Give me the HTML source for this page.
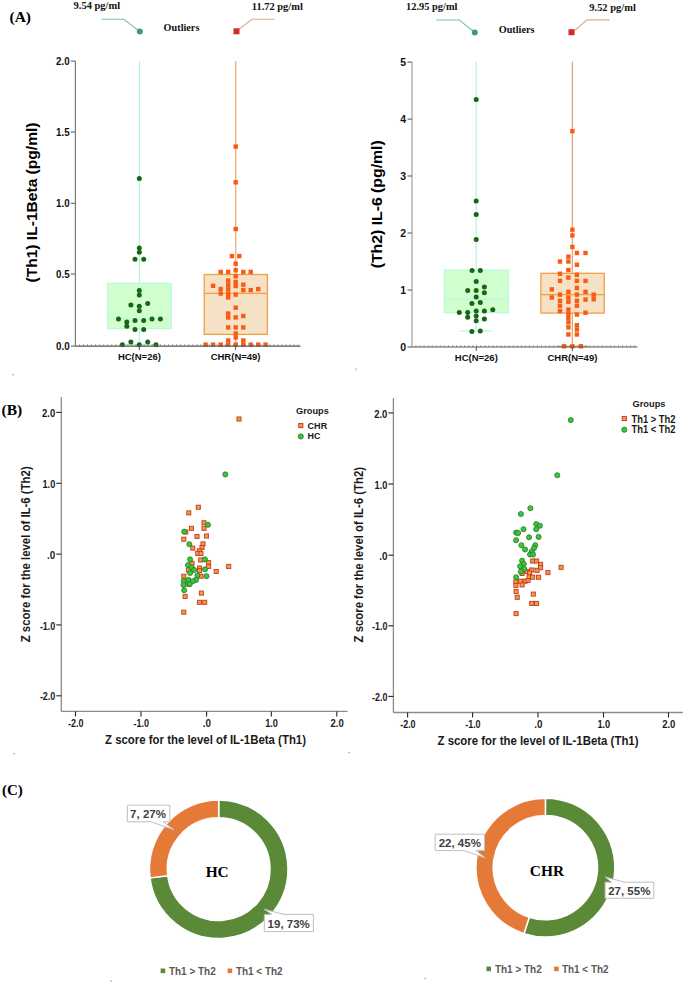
<!DOCTYPE html>
<html><head><meta charset="utf-8"><style>
html,body{margin:0;padding:0;background:#fff;width:685px;height:984px;overflow:hidden}
svg{display:block}
</style></head><body>
<svg width="685" height="984" viewBox="0 0 685 984">
<rect width="685" height="984" fill="#fff"/>
<text x="9.5" y="21.8" font-family='"Liberation Serif", serif' font-size="15.5" font-weight="bold" fill="#000" text-anchor="start" >(A)</text>
<text x="1.5" y="414.5" font-family='"Liberation Serif", serif' font-size="15.5" font-weight="bold" fill="#000" text-anchor="start" >(B)</text>
<text x="1.9" y="795" font-family='"Liberation Serif", serif' font-size="15" font-weight="bold" fill="#000" text-anchor="start" >(C)</text>
<line x1="75.4" y1="61.1" x2="75.4" y2="346.1" stroke="#7a7a7a" stroke-width="1.2"/>
<line x1="70.9" y1="61.1" x2="75.4" y2="61.1" stroke="#6e6e6e" stroke-width="1.2"/>
<text x="69.60000000000001" y="65.0" font-family='"Liberation Sans", sans-serif' font-size="10.5" font-weight="bold" fill="#111" text-anchor="end" textLength="13.6" lengthAdjust="spacingAndGlyphs" >2.0</text>
<line x1="70.9" y1="132" x2="75.4" y2="132" stroke="#6e6e6e" stroke-width="1.2"/>
<text x="69.60000000000001" y="135.9" font-family='"Liberation Sans", sans-serif' font-size="10.5" font-weight="bold" fill="#111" text-anchor="end" textLength="13.6" lengthAdjust="spacingAndGlyphs" >1.5</text>
<line x1="70.9" y1="203.3" x2="75.4" y2="203.3" stroke="#6e6e6e" stroke-width="1.2"/>
<text x="69.60000000000001" y="207.20000000000002" font-family='"Liberation Sans", sans-serif' font-size="10.5" font-weight="bold" fill="#111" text-anchor="end" textLength="13.6" lengthAdjust="spacingAndGlyphs" >1.0</text>
<line x1="70.9" y1="274" x2="75.4" y2="274" stroke="#6e6e6e" stroke-width="1.2"/>
<text x="69.60000000000001" y="277.9" font-family='"Liberation Sans", sans-serif' font-size="10.5" font-weight="bold" fill="#111" text-anchor="end" textLength="13.6" lengthAdjust="spacingAndGlyphs" >0.5</text>
<line x1="70.9" y1="346.1" x2="75.4" y2="346.1" stroke="#6e6e6e" stroke-width="1.2"/>
<text x="69.60000000000001" y="350.0" font-family='"Liberation Sans", sans-serif' font-size="10.5" font-weight="bold" fill="#111" text-anchor="end" textLength="13.6" lengthAdjust="spacingAndGlyphs" >0.0</text>
<text x="37.2" y="202.5" font-family='"Liberation Sans", sans-serif' font-size="15" font-weight="bold" fill="#000" text-anchor="middle" textLength="160" lengthAdjust="spacingAndGlyphs" transform="rotate(-90 37.2 202.5)">(Th1) IL-1Beta (pg/ml)</text>
<line x1="139.5" y1="61" x2="139.5" y2="344.5" stroke="#b6f5dc" stroke-width="1.3"/>
<rect x="107.5" y="283.3" width="63.80000000000001" height="45.30000000000001" fill="#d0fecc" stroke="#b9f7e0" stroke-width="1.2"/>
<line x1="107.5" y1="319" x2="171.3" y2="319" stroke="#b9f7e0" stroke-width="1.2"/>
<line x1="122" y1="344.5" x2="157" y2="344.5" stroke="#b9f7e0" stroke-width="1.2"/>
<circle cx="139.3" cy="178.40" r="2.5" fill="#176614"/>
<circle cx="139.3" cy="247.90" r="2.5" fill="#176614"/>
<circle cx="139.3" cy="252.30" r="2.5" fill="#176614"/>
<circle cx="135.0" cy="259.30" r="2.5" fill="#176614"/>
<circle cx="143.7" cy="259.30" r="2.5" fill="#176614"/>
<circle cx="139.3" cy="290.50" r="2.5" fill="#176614"/>
<circle cx="139.3" cy="294.90" r="2.5" fill="#176614"/>
<circle cx="130.9" cy="304.90" r="2.5" fill="#176614"/>
<circle cx="147.7" cy="303.40" r="2.5" fill="#176614"/>
<circle cx="139.3" cy="306.30" r="2.5" fill="#176614"/>
<circle cx="139.3" cy="310.70" r="2.5" fill="#176614"/>
<circle cx="118.5" cy="319.00" r="2.5" fill="#176614"/>
<circle cx="126.8" cy="322.10" r="2.5" fill="#176614"/>
<circle cx="135" cy="320.60" r="2.5" fill="#176614"/>
<circle cx="143.7" cy="320.60" r="2.5" fill="#176614"/>
<circle cx="152" cy="319.00" r="2.5" fill="#176614"/>
<circle cx="160.4" cy="319.00" r="2.5" fill="#176614"/>
<circle cx="126.8" cy="326.30" r="2.5" fill="#176614"/>
<circle cx="135" cy="329.40" r="2.5" fill="#176614"/>
<circle cx="143.7" cy="329.40" r="2.5" fill="#176614"/>
<circle cx="122.4" cy="344.70" r="2.5" fill="#176614"/>
<circle cx="130.9" cy="342.10" r="2.5" fill="#176614"/>
<circle cx="139.3" cy="344.70" r="2.5" fill="#176614"/>
<circle cx="147.7" cy="342.10" r="2.5" fill="#176614"/>
<circle cx="156" cy="344.70" r="2.5" fill="#176614"/>
<line x1="235.7" y1="61" x2="235.7" y2="346.1" stroke="#f2ac70" stroke-width="1.3"/>
<rect x="204.2" y="274.5" width="63.19999999999999" height="59.89999999999998" fill="#f5e1c6" stroke="#f0a040" stroke-width="1.3"/>
<line x1="204.2" y1="293.4" x2="267.4" y2="293.4" stroke="#f0a040" stroke-width="1.3"/>
<rect x="233.50" y="144.40" width="4.4" height="4.4" fill="#fb5a14"/>
<rect x="233.50" y="180.10" width="4.4" height="4.4" fill="#fb5a14"/>
<rect x="233.50" y="226.80" width="4.4" height="4.4" fill="#fb5a14"/>
<rect x="229.70" y="253.90" width="4.4" height="4.4" fill="#fb5a14"/>
<rect x="237.10" y="253.90" width="4.4" height="4.4" fill="#fb5a14"/>
<rect x="233.50" y="261.40" width="4.4" height="4.4" fill="#fb5a14"/>
<rect x="233.50" y="268.10" width="4.4" height="4.4" fill="#fb5a14"/>
<rect x="218.50" y="269.70" width="4.4" height="4.4" fill="#fb5a14"/>
<rect x="226.00" y="269.70" width="4.4" height="4.4" fill="#fb5a14"/>
<rect x="241.10" y="269.70" width="4.4" height="4.4" fill="#fb5a14"/>
<rect x="248.50" y="269.70" width="4.4" height="4.4" fill="#fb5a14"/>
<rect x="233.50" y="274.10" width="4.4" height="4.4" fill="#fb5a14"/>
<rect x="226.00" y="278.40" width="4.4" height="4.4" fill="#fb5a14"/>
<rect x="226.00" y="282.80" width="4.4" height="4.4" fill="#fb5a14"/>
<rect x="226.00" y="287.20" width="4.4" height="4.4" fill="#fb5a14"/>
<rect x="226.00" y="291.60" width="4.4" height="4.4" fill="#fb5a14"/>
<rect x="226.00" y="295.20" width="4.4" height="4.4" fill="#fb5a14"/>
<rect x="233.50" y="279.80" width="4.4" height="4.4" fill="#fb5a14"/>
<rect x="233.50" y="283.80" width="4.4" height="4.4" fill="#fb5a14"/>
<rect x="233.50" y="292.40" width="4.4" height="4.4" fill="#fb5a14"/>
<rect x="241.10" y="282.50" width="4.4" height="4.4" fill="#fb5a14"/>
<rect x="241.10" y="287.90" width="4.4" height="4.4" fill="#fb5a14"/>
<rect x="248.50" y="287.90" width="4.4" height="4.4" fill="#fb5a14"/>
<rect x="256.00" y="286.90" width="4.4" height="4.4" fill="#fb5a14"/>
<rect x="210.90" y="283.60" width="4.4" height="4.4" fill="#fb5a14"/>
<rect x="218.50" y="286.80" width="4.4" height="4.4" fill="#fb5a14"/>
<rect x="218.50" y="291.30" width="4.4" height="4.4" fill="#fb5a14"/>
<rect x="233.50" y="305.50" width="4.4" height="4.4" fill="#fb5a14"/>
<rect x="226.00" y="311.30" width="4.4" height="4.4" fill="#fb5a14"/>
<rect x="226.00" y="315.30" width="4.4" height="4.4" fill="#fb5a14"/>
<rect x="233.50" y="315.20" width="4.4" height="4.4" fill="#fb5a14"/>
<rect x="241.10" y="313.80" width="4.4" height="4.4" fill="#fb5a14"/>
<rect x="226.00" y="325.20" width="4.4" height="4.4" fill="#fb5a14"/>
<rect x="233.50" y="325.20" width="4.4" height="4.4" fill="#fb5a14"/>
<rect x="241.10" y="325.20" width="4.4" height="4.4" fill="#fb5a14"/>
<rect x="233.50" y="331.30" width="4.4" height="4.4" fill="#fb5a14"/>
<rect x="233.50" y="335.30" width="4.4" height="4.4" fill="#fb5a14"/>
<rect x="203.40" y="342.40" width="4.4" height="4.4" fill="#fb5a14"/>
<rect x="210.90" y="342.40" width="4.4" height="4.4" fill="#fb5a14"/>
<rect x="218.50" y="342.40" width="4.4" height="4.4" fill="#fb5a14"/>
<rect x="226.00" y="342.40" width="4.4" height="4.4" fill="#fb5a14"/>
<rect x="233.50" y="342.40" width="4.4" height="4.4" fill="#fb5a14"/>
<rect x="241.10" y="342.40" width="4.4" height="4.4" fill="#fb5a14"/>
<rect x="248.50" y="342.40" width="4.4" height="4.4" fill="#fb5a14"/>
<rect x="256.00" y="342.40" width="4.4" height="4.4" fill="#fb5a14"/>
<rect x="263.40" y="342.40" width="4.4" height="4.4" fill="#fb5a14"/>
<rect x="226.00" y="338.30" width="4.4" height="4.4" fill="#fb5a14"/>
<rect x="241.10" y="338.30" width="4.4" height="4.4" fill="#fb5a14"/>
<line x1="75.4" y1="346.1" x2="300.4" y2="346.1" stroke="#555" stroke-width="1.1"/>
<path d="M79.4 344.3v1.8 M83.5 344.3v1.8 M87.5 344.3v1.8 M91.5 344.3v1.8 M95.6 344.3v1.8 M99.6 344.3v1.8 M103.7 344.3v1.8 M107.7 344.3v1.8 M111.8 344.3v1.8 M115.8 344.3v1.8 M119.9 344.3v1.8 M123.9 344.3v1.8 M128.0 344.3v1.8 M132.0 344.3v1.8 M136.1 344.3v1.8 M140.2 344.3v1.8 M144.2 344.3v1.8 M148.3 344.3v1.8 M152.3 344.3v1.8 M156.4 344.3v1.8 M160.4 344.3v1.8 M164.5 344.3v1.8 M168.5 344.3v1.8 M172.6 344.3v1.8 M176.6 344.3v1.8 M180.7 344.3v1.8 M184.7 344.3v1.8 M188.8 344.3v1.8 M192.8 344.3v1.8 M196.9 344.3v1.8 M200.9 344.3v1.8 M205.0 344.3v1.8 M209.0 344.3v1.8 M213.1 344.3v1.8 M217.1 344.3v1.8 M221.2 344.3v1.8 M225.2 344.3v1.8 M229.3 344.3v1.8 M233.3 344.3v1.8 M237.4 344.3v1.8 M241.4 344.3v1.8 M245.5 344.3v1.8 M249.5 344.3v1.8 M253.6 344.3v1.8 M257.6 344.3v1.8 M261.7 344.3v1.8 M265.7 344.3v1.8 M269.8 344.3v1.8 M273.8 344.3v1.8 M277.9 344.3v1.8 M281.9 344.3v1.8 M286.0 344.3v1.8 M290.0 344.3v1.8 M294.1 344.3v1.8 M298.1 344.3v1.8" stroke="#777" stroke-width="0.8"/>
<line x1="139.4" y1="346.1" x2="139.4" y2="350.1" stroke="#555" stroke-width="1"/>
<text x="139.4" y="360.40000000000003" font-family='"Liberation Sans", sans-serif' font-size="9.5" font-weight="bold" fill="#111" text-anchor="middle" >HC(N=26)</text>
<line x1="235.6" y1="346.1" x2="235.6" y2="350.1" stroke="#555" stroke-width="1"/>
<text x="235.6" y="360.40000000000003" font-family='"Liberation Sans", sans-serif' font-size="9.5" font-weight="bold" fill="#111" text-anchor="middle" >CHR(N=49)</text>
<text x="73.6" y="8.8" font-family='"Liberation Serif", serif' font-size="10.4" font-weight="bold" fill="#111" text-anchor="start" textLength="46.5" lengthAdjust="spacingAndGlyphs" >9.54 pg/ml</text>
<polyline points="101.8,19.2 123.9,19.2 139.8,31.5" fill="none" stroke="#7cc4ad" stroke-width="1.1"/>
<circle cx="139.8" cy="31.5" r="3" fill="#3f9a7c"/>
<text x="251.8" y="10.3" font-family='"Liberation Serif", serif' font-size="10.4" font-weight="bold" fill="#111" text-anchor="start" textLength="51" lengthAdjust="spacingAndGlyphs" >11.72 pg/ml</text>
<polyline points="236.5,31.3 252.1,19.2 274.6,19.2" fill="none" stroke="#d7ae92" stroke-width="1.1"/>
<rect x="233.5" y="28.3" width="6" height="6" fill="#d42a22"/>
<text x="163.6" y="31.2" font-family='"Liberation Serif", serif' font-size="10.6" font-weight="bold" fill="#111" text-anchor="start" textLength="35.8" lengthAdjust="spacingAndGlyphs" >Outliers</text>
<line x1="412" y1="62.1" x2="412" y2="347" stroke="#a0a0a0" stroke-width="1.2"/>
<line x1="407.5" y1="62.1" x2="412" y2="62.1" stroke="#6e6e6e" stroke-width="1.2"/>
<text x="406.2" y="66.0" font-family='"Liberation Sans", sans-serif' font-size="10.5" font-weight="bold" fill="#111" text-anchor="end" >5</text>
<line x1="407.5" y1="119.1" x2="412" y2="119.1" stroke="#6e6e6e" stroke-width="1.2"/>
<text x="406.2" y="123.0" font-family='"Liberation Sans", sans-serif' font-size="10.5" font-weight="bold" fill="#111" text-anchor="end" >4</text>
<line x1="407.5" y1="176" x2="412" y2="176" stroke="#6e6e6e" stroke-width="1.2"/>
<text x="406.2" y="179.9" font-family='"Liberation Sans", sans-serif' font-size="10.5" font-weight="bold" fill="#111" text-anchor="end" >3</text>
<line x1="407.5" y1="233" x2="412" y2="233" stroke="#6e6e6e" stroke-width="1.2"/>
<text x="406.2" y="236.9" font-family='"Liberation Sans", sans-serif' font-size="10.5" font-weight="bold" fill="#111" text-anchor="end" >2</text>
<line x1="407.5" y1="290" x2="412" y2="290" stroke="#6e6e6e" stroke-width="1.2"/>
<text x="406.2" y="293.9" font-family='"Liberation Sans", sans-serif' font-size="10.5" font-weight="bold" fill="#111" text-anchor="end" >1</text>
<line x1="407.5" y1="347" x2="412" y2="347" stroke="#6e6e6e" stroke-width="1.2"/>
<text x="406.2" y="350.9" font-family='"Liberation Sans", sans-serif' font-size="10.5" font-weight="bold" fill="#111" text-anchor="end" >0</text>
<text x="381.8" y="204.3" font-family='"Liberation Sans", sans-serif' font-size="15" font-weight="bold" fill="#000" text-anchor="middle" textLength="128" lengthAdjust="spacingAndGlyphs" transform="rotate(-90 381.8 204.3)">(Th2) IL-6 (pg/ml)</text>
<line x1="476.2" y1="61.6" x2="476.2" y2="331" stroke="#b6f5dc" stroke-width="1.3"/>
<rect x="444.3" y="270.1" width="64.0" height="42.599999999999966" fill="#d0fecc" stroke="#b9f7e0" stroke-width="1.2"/>
<line x1="444.3" y1="299.3" x2="508.3" y2="299.3" stroke="#b9f7e0" stroke-width="1.2"/>
<line x1="460" y1="331" x2="491.7" y2="331" stroke="#b9f7e0" stroke-width="1.2"/>
<circle cx="476.2" cy="99.60" r="2.5" fill="#176614"/>
<circle cx="476.2" cy="201.10" r="2.5" fill="#176614"/>
<circle cx="476.2" cy="214.60" r="2.5" fill="#176614"/>
<circle cx="476.2" cy="239.60" r="2.5" fill="#176614"/>
<circle cx="472.1" cy="270.60" r="2.5" fill="#176614"/>
<circle cx="480.3" cy="270.60" r="2.5" fill="#176614"/>
<circle cx="476.2" cy="281.50" r="2.5" fill="#176614"/>
<circle cx="484.4" cy="287.10" r="2.5" fill="#176614"/>
<circle cx="467.7" cy="290.50" r="2.5" fill="#176614"/>
<circle cx="476.2" cy="290.50" r="2.5" fill="#176614"/>
<circle cx="484.4" cy="292.80" r="2.5" fill="#176614"/>
<circle cx="476.2" cy="296.90" r="2.5" fill="#176614"/>
<circle cx="471.9" cy="303.60" r="2.5" fill="#176614"/>
<circle cx="480.3" cy="302.50" r="2.5" fill="#176614"/>
<circle cx="459.3" cy="312.60" r="2.5" fill="#176614"/>
<circle cx="467.7" cy="312.60" r="2.5" fill="#176614"/>
<circle cx="476.2" cy="310.90" r="2.5" fill="#176614"/>
<circle cx="484.4" cy="310.90" r="2.5" fill="#176614"/>
<circle cx="492.8" cy="309.80" r="2.5" fill="#176614"/>
<circle cx="467.7" cy="317.30" r="2.5" fill="#176614"/>
<circle cx="476.2" cy="316.10" r="2.5" fill="#176614"/>
<circle cx="476.2" cy="320.80" r="2.5" fill="#176614"/>
<circle cx="484.4" cy="319.10" r="2.5" fill="#176614"/>
<circle cx="471.9" cy="331.50" r="2.5" fill="#176614"/>
<circle cx="480.3" cy="330.90" r="2.5" fill="#176614"/>
<line x1="572.4" y1="61.6" x2="572.4" y2="347" stroke="#d9aa72" stroke-width="1.3"/>
<rect x="540.9" y="273.3" width="63.30000000000007" height="39.80000000000001" fill="#f5e1c6" stroke="#f0a040" stroke-width="1.3"/>
<line x1="540.9" y1="294.6" x2="604.2" y2="294.6" stroke="#f0a040" stroke-width="1.3"/>
<line x1="557.7" y1="346.3" x2="587.6" y2="346.3" stroke="#f0a040" stroke-width="1.2"/>
<rect x="570.20" y="129.00" width="4.4" height="4.4" fill="#fb5a14"/>
<rect x="570.20" y="227.47" width="4.4" height="4.4" fill="#fb5a14"/>
<rect x="570.20" y="233.16" width="4.4" height="4.4" fill="#fb5a14"/>
<rect x="570.20" y="244.82" width="4.4" height="4.4" fill="#fb5a14"/>
<rect x="574.70" y="250.79" width="4.4" height="4.4" fill="#fb5a14"/>
<rect x="583.30" y="250.79" width="4.4" height="4.4" fill="#fb5a14"/>
<rect x="566.20" y="254.48" width="4.4" height="4.4" fill="#fb5a14"/>
<rect x="566.20" y="259.32" width="4.4" height="4.4" fill="#fb5a14"/>
<rect x="557.80" y="259.32" width="4.4" height="4.4" fill="#fb5a14"/>
<rect x="574.70" y="262.59" width="4.4" height="4.4" fill="#fb5a14"/>
<rect x="566.20" y="267.85" width="4.4" height="4.4" fill="#fb5a14"/>
<rect x="557.80" y="271.55" width="4.4" height="4.4" fill="#fb5a14"/>
<rect x="574.70" y="272.54" width="4.4" height="4.4" fill="#fb5a14"/>
<rect x="566.20" y="275.39" width="4.4" height="4.4" fill="#fb5a14"/>
<rect x="557.80" y="278.66" width="4.4" height="4.4" fill="#fb5a14"/>
<rect x="574.70" y="278.66" width="4.4" height="4.4" fill="#fb5a14"/>
<rect x="583.30" y="278.66" width="4.4" height="4.4" fill="#fb5a14"/>
<rect x="549.60" y="287.19" width="4.4" height="4.4" fill="#fb5a14"/>
<rect x="574.70" y="285.77" width="4.4" height="4.4" fill="#fb5a14"/>
<rect x="566.20" y="289.60" width="4.4" height="4.4" fill="#fb5a14"/>
<rect x="583.30" y="289.60" width="4.4" height="4.4" fill="#fb5a14"/>
<rect x="557.80" y="292.45" width="4.4" height="4.4" fill="#fb5a14"/>
<rect x="574.70" y="292.45" width="4.4" height="4.4" fill="#fb5a14"/>
<rect x="591.50" y="292.45" width="4.4" height="4.4" fill="#fb5a14"/>
<rect x="591.50" y="297.00" width="4.4" height="4.4" fill="#fb5a14"/>
<rect x="549.60" y="295.29" width="4.4" height="4.4" fill="#fb5a14"/>
<rect x="566.20" y="295.29" width="4.4" height="4.4" fill="#fb5a14"/>
<rect x="566.20" y="299.56" width="4.4" height="4.4" fill="#fb5a14"/>
<rect x="557.80" y="298.56" width="4.4" height="4.4" fill="#fb5a14"/>
<rect x="557.80" y="303.54" width="4.4" height="4.4" fill="#fb5a14"/>
<rect x="574.70" y="298.56" width="4.4" height="4.4" fill="#fb5a14"/>
<rect x="574.70" y="303.54" width="4.4" height="4.4" fill="#fb5a14"/>
<rect x="583.30" y="297.42" width="4.4" height="4.4" fill="#fb5a14"/>
<rect x="566.20" y="307.38" width="4.4" height="4.4" fill="#fb5a14"/>
<rect x="566.20" y="311.64" width="4.4" height="4.4" fill="#fb5a14"/>
<rect x="566.20" y="315.91" width="4.4" height="4.4" fill="#fb5a14"/>
<rect x="566.20" y="320.17" width="4.4" height="4.4" fill="#fb5a14"/>
<rect x="566.20" y="325.15" width="4.4" height="4.4" fill="#fb5a14"/>
<rect x="557.80" y="308.80" width="4.4" height="4.4" fill="#fb5a14"/>
<rect x="583.30" y="310.51" width="4.4" height="4.4" fill="#fb5a14"/>
<rect x="574.70" y="312.35" width="4.4" height="4.4" fill="#fb5a14"/>
<rect x="574.70" y="323.02" width="4.4" height="4.4" fill="#fb5a14"/>
<rect x="574.70" y="327.28" width="4.4" height="4.4" fill="#fb5a14"/>
<rect x="566.20" y="332.26" width="4.4" height="4.4" fill="#fb5a14"/>
<rect x="574.70" y="332.26" width="4.4" height="4.4" fill="#fb5a14"/>
<rect x="561.90" y="344.06" width="4.4" height="4.4" fill="#fb5a14"/>
<rect x="570.20" y="344.06" width="4.4" height="4.4" fill="#fb5a14"/>
<rect x="578.70" y="344.06" width="4.4" height="4.4" fill="#fb5a14"/>
<line x1="412" y1="347" x2="637.4" y2="347" stroke="#555" stroke-width="1.1"/>
<path d="M416.0 345.2v1.8 M420.1 345.2v1.8 M424.1 345.2v1.8 M428.2 345.2v1.8 M432.2 345.2v1.8 M436.3 345.2v1.8 M440.3 345.2v1.8 M444.4 345.2v1.8 M448.4 345.2v1.8 M452.5 345.2v1.8 M456.5 345.2v1.8 M460.6 345.2v1.8 M464.6 345.2v1.8 M468.7 345.2v1.8 M472.7 345.2v1.8 M476.8 345.2v1.8 M480.8 345.2v1.8 M484.9 345.2v1.8 M488.9 345.2v1.8 M493.0 345.2v1.8 M497.0 345.2v1.8 M501.1 345.2v1.8 M505.1 345.2v1.8 M509.2 345.2v1.8 M513.2 345.2v1.8 M517.3 345.2v1.8 M521.3 345.2v1.8 M525.4 345.2v1.8 M529.4 345.2v1.8 M533.5 345.2v1.8 M537.5 345.2v1.8 M541.5 345.2v1.8 M545.6 345.2v1.8 M549.6 345.2v1.8 M553.7 345.2v1.8 M557.7 345.2v1.8 M561.8 345.2v1.8 M565.8 345.2v1.8 M569.9 345.2v1.8 M573.9 345.2v1.8 M578.0 345.2v1.8 M582.0 345.2v1.8 M586.1 345.2v1.8 M590.1 345.2v1.8 M594.2 345.2v1.8 M598.2 345.2v1.8 M602.3 345.2v1.8 M606.3 345.2v1.8 M610.4 345.2v1.8 M614.4 345.2v1.8 M618.5 345.2v1.8 M622.5 345.2v1.8 M626.6 345.2v1.8 M630.6 345.2v1.8 M634.7 345.2v1.8" stroke="#777" stroke-width="0.8"/>
<line x1="476.3" y1="347" x2="476.3" y2="351" stroke="#555" stroke-width="1"/>
<text x="476.3" y="361.3" font-family='"Liberation Sans", sans-serif' font-size="9.5" font-weight="bold" fill="#111" text-anchor="middle" >HC(N=26)</text>
<line x1="572.4" y1="347" x2="572.4" y2="351" stroke="#555" stroke-width="1"/>
<text x="572.4" y="361.3" font-family='"Liberation Sans", sans-serif' font-size="9.5" font-weight="bold" fill="#111" text-anchor="middle" >CHR(N=49)</text>
<text x="406.1" y="10.1" font-family='"Liberation Serif", serif' font-size="10.4" font-weight="bold" fill="#111" text-anchor="start" textLength="51.4" lengthAdjust="spacingAndGlyphs" >12.95 pg/ml</text>
<polyline points="436.4,20 459.3,20 474.8,32.5" fill="none" stroke="#7cc4ad" stroke-width="1.1"/>
<circle cx="474.8" cy="32.5" r="3" fill="#3f9a7c"/>
<text x="589.3" y="11.2" font-family='"Liberation Serif", serif' font-size="10.4" font-weight="bold" fill="#111" text-anchor="start" textLength="46.5" lengthAdjust="spacingAndGlyphs" >9.52 pg/ml</text>
<polyline points="574,31 587.1,19.9 609.7,19.9" fill="none" stroke="#d7ae92" stroke-width="1.1"/>
<rect x="568.5" y="29.200000000000003" width="6" height="6" fill="#d42a22"/>
<text x="498.7" y="32.5" font-family='"Liberation Serif", serif' font-size="10.6" font-weight="bold" fill="#111" text-anchor="start" textLength="35.8" lengthAdjust="spacingAndGlyphs" >Outliers</text>
<line x1="61.3" y1="397" x2="61.3" y2="711.4" stroke="#8a8a8a" stroke-width="1.3"/>
<line x1="61.3" y1="711.4" x2="347.5" y2="711.4" stroke="#8a8a8a" stroke-width="1.3"/>
<line x1="56.3" y1="412.4" x2="61.3" y2="412.4" stroke="#222" stroke-width="1.1"/>
<text x="55.3" y="417.0" font-family='"Liberation Sans", sans-serif' font-size="10.5" font-weight="bold" fill="#1a1a1a" text-anchor="end" textLength="13.2" lengthAdjust="spacingAndGlyphs" >2.0</text>
<line x1="56.3" y1="483.3" x2="61.3" y2="483.3" stroke="#222" stroke-width="1.1"/>
<text x="55.3" y="487.90000000000003" font-family='"Liberation Sans", sans-serif' font-size="10.5" font-weight="bold" fill="#1a1a1a" text-anchor="end" textLength="12.8" lengthAdjust="spacingAndGlyphs" >1.0</text>
<line x1="56.3" y1="554.1" x2="61.3" y2="554.1" stroke="#222" stroke-width="1.1"/>
<text x="55.3" y="558.7" font-family='"Liberation Sans", sans-serif' font-size="10.5" font-weight="bold" fill="#1a1a1a" text-anchor="end" textLength="8.2" lengthAdjust="spacingAndGlyphs" >.0</text>
<line x1="56.3" y1="624.9" x2="61.3" y2="624.9" stroke="#222" stroke-width="1.1"/>
<text x="55.3" y="629.5" font-family='"Liberation Sans", sans-serif' font-size="10.5" font-weight="bold" fill="#1a1a1a" text-anchor="end" textLength="15.4" lengthAdjust="spacingAndGlyphs" >-1.0</text>
<line x1="56.3" y1="695.8" x2="61.3" y2="695.8" stroke="#222" stroke-width="1.1"/>
<text x="55.3" y="700.4" font-family='"Liberation Sans", sans-serif' font-size="10.5" font-weight="bold" fill="#1a1a1a" text-anchor="end" textLength="15.4" lengthAdjust="spacingAndGlyphs" >-2.0</text>
<line x1="75.5" y1="711.4" x2="75.5" y2="716.4" stroke="#222" stroke-width="1.1"/>
<text x="75.8" y="726.9" font-family='"Liberation Sans", sans-serif' font-size="10.5" font-weight="bold" fill="#1a1a1a" text-anchor="middle" textLength="15.4" lengthAdjust="spacingAndGlyphs" >-2.0</text>
<line x1="141" y1="711.4" x2="141" y2="716.4" stroke="#222" stroke-width="1.1"/>
<text x="141.3" y="726.9" font-family='"Liberation Sans", sans-serif' font-size="10.5" font-weight="bold" fill="#1a1a1a" text-anchor="middle" textLength="15.4" lengthAdjust="spacingAndGlyphs" >-1.0</text>
<line x1="206.6" y1="711.4" x2="206.6" y2="716.4" stroke="#222" stroke-width="1.1"/>
<text x="206.9" y="726.9" font-family='"Liberation Sans", sans-serif' font-size="10.5" font-weight="bold" fill="#1a1a1a" text-anchor="middle" textLength="8.2" lengthAdjust="spacingAndGlyphs" >.0</text>
<line x1="271.3" y1="711.4" x2="271.3" y2="716.4" stroke="#222" stroke-width="1.1"/>
<text x="271.6" y="726.9" font-family='"Liberation Sans", sans-serif' font-size="10.5" font-weight="bold" fill="#1a1a1a" text-anchor="middle" textLength="12.8" lengthAdjust="spacingAndGlyphs" >1.0</text>
<line x1="336.8" y1="711.4" x2="336.8" y2="716.4" stroke="#222" stroke-width="1.1"/>
<text x="337.1" y="726.9" font-family='"Liberation Sans", sans-serif' font-size="10.5" font-weight="bold" fill="#1a1a1a" text-anchor="middle" textLength="13.2" lengthAdjust="spacingAndGlyphs" >2.0</text>
<text x="205.5" y="744" font-family='"Liberation Sans", sans-serif' font-size="12" font-weight="bold" fill="#1a1a1a" text-anchor="middle" textLength="201" lengthAdjust="spacingAndGlyphs" >Z score for the level of IL-1Beta (Th1)</text>
<text x="30.1" y="554.3" font-family='"Liberation Sans", sans-serif' font-size="12" font-weight="bold" fill="#1a1a1a" text-anchor="middle" textLength="176" lengthAdjust="spacingAndGlyphs" transform="rotate(-90 30.1 554.3)">Z score for the level of IL-6 (Th2)</text>
<text x="296" y="414" font-family='"Liberation Sans", sans-serif' font-size="9.6" font-weight="bold" fill="#1a1a1a" text-anchor="start" textLength="32.8" lengthAdjust="spacingAndGlyphs" >Groups</text>
<rect x="298.7" y="423.5" width="4.2" height="4.2" fill="#f39a3a" stroke="#c0392b" stroke-width="0.9"/>
<text x="307.6" y="429.1" font-family='"Liberation Sans", sans-serif' font-size="9.6" font-weight="bold" fill="#1a1a1a" text-anchor="start" textLength="19.6" lengthAdjust="spacingAndGlyphs" >CHR</text>
<circle cx="300.8" cy="436.4" r="2.6" fill="#3cc43c" stroke="#2a7a2a" stroke-width="0.8"/>
<text x="307.6" y="439.4" font-family='"Liberation Sans", sans-serif' font-size="9.6" font-weight="bold" fill="#1a1a1a" text-anchor="start" textLength="12.9" lengthAdjust="spacingAndGlyphs" >HC</text>
<rect x="236.95" y="416.95" width="4.1" height="4.1" fill="#f39a3a" stroke="#c0392b" stroke-width="0.9"/>
<rect x="196.25" y="505.15" width="4.1" height="4.1" fill="#f39a3a" stroke="#c0392b" stroke-width="0.9"/>
<rect x="186.75" y="510.85" width="4.1" height="4.1" fill="#f39a3a" stroke="#c0392b" stroke-width="0.9"/>
<rect x="201.95" y="520.75" width="4.1" height="4.1" fill="#f39a3a" stroke="#c0392b" stroke-width="0.9"/>
<rect x="189.45" y="526.25" width="4.1" height="4.1" fill="#f39a3a" stroke="#c0392b" stroke-width="0.9"/>
<rect x="201.95" y="526.25" width="4.1" height="4.1" fill="#f39a3a" stroke="#c0392b" stroke-width="0.9"/>
<rect x="183.75" y="529.95" width="4.1" height="4.1" fill="#f39a3a" stroke="#c0392b" stroke-width="0.9"/>
<rect x="194.95" y="534.45" width="4.1" height="4.1" fill="#f39a3a" stroke="#c0392b" stroke-width="0.9"/>
<rect x="204.45" y="533.95" width="4.1" height="4.1" fill="#f39a3a" stroke="#c0392b" stroke-width="0.9"/>
<rect x="181.75" y="537.15" width="4.1" height="4.1" fill="#f39a3a" stroke="#c0392b" stroke-width="0.9"/>
<rect x="200.95" y="541.85" width="4.1" height="4.1" fill="#f39a3a" stroke="#c0392b" stroke-width="0.9"/>
<rect x="190.75" y="546.05" width="4.1" height="4.1" fill="#f39a3a" stroke="#c0392b" stroke-width="0.9"/>
<rect x="199.95" y="545.45" width="4.1" height="4.1" fill="#f39a3a" stroke="#c0392b" stroke-width="0.9"/>
<rect x="197.35" y="548.75" width="4.1" height="4.1" fill="#f39a3a" stroke="#c0392b" stroke-width="0.9"/>
<rect x="195.65" y="551.35" width="4.1" height="4.1" fill="#f39a3a" stroke="#c0392b" stroke-width="0.9"/>
<rect x="198.95" y="551.35" width="4.1" height="4.1" fill="#f39a3a" stroke="#c0392b" stroke-width="0.9"/>
<rect x="198.65" y="557.95" width="4.1" height="4.1" fill="#f39a3a" stroke="#c0392b" stroke-width="0.9"/>
<rect x="189.95" y="561.25" width="4.1" height="4.1" fill="#f39a3a" stroke="#c0392b" stroke-width="0.9"/>
<rect x="206.55" y="560.65" width="4.1" height="4.1" fill="#f39a3a" stroke="#c0392b" stroke-width="0.9"/>
<rect x="206.55" y="564.35" width="4.1" height="4.1" fill="#f39a3a" stroke="#c0392b" stroke-width="0.9"/>
<rect x="226.65" y="564.35" width="4.1" height="4.1" fill="#f39a3a" stroke="#c0392b" stroke-width="0.9"/>
<rect x="186.35" y="567.95" width="4.1" height="4.1" fill="#f39a3a" stroke="#c0392b" stroke-width="0.9"/>
<rect x="197.55" y="565.95" width="4.1" height="4.1" fill="#f39a3a" stroke="#c0392b" stroke-width="0.9"/>
<rect x="197.55" y="568.55" width="4.1" height="4.1" fill="#f39a3a" stroke="#c0392b" stroke-width="0.9"/>
<rect x="214.15" y="569.45" width="4.1" height="4.1" fill="#f39a3a" stroke="#c0392b" stroke-width="0.9"/>
<rect x="181.75" y="574.15" width="4.1" height="4.1" fill="#f39a3a" stroke="#c0392b" stroke-width="0.9"/>
<rect x="198.95" y="574.15" width="4.1" height="4.1" fill="#f39a3a" stroke="#c0392b" stroke-width="0.9"/>
<rect x="186.75" y="582.45" width="4.1" height="4.1" fill="#f39a3a" stroke="#c0392b" stroke-width="0.9"/>
<rect x="183.05" y="594.35" width="4.1" height="4.1" fill="#f39a3a" stroke="#c0392b" stroke-width="0.9"/>
<rect x="199.35" y="591.05" width="4.1" height="4.1" fill="#f39a3a" stroke="#c0392b" stroke-width="0.9"/>
<rect x="197.35" y="600.25" width="4.1" height="4.1" fill="#f39a3a" stroke="#c0392b" stroke-width="0.9"/>
<rect x="202.65" y="600.25" width="4.1" height="4.1" fill="#f39a3a" stroke="#c0392b" stroke-width="0.9"/>
<rect x="181.75" y="610.15" width="4.1" height="4.1" fill="#f39a3a" stroke="#c0392b" stroke-width="0.9"/>
<circle cx="225.30" cy="474.40" r="2.55" fill="#3cc43c" stroke="#2a7a2a" stroke-width="0.8"/>
<circle cx="208.00" cy="524.80" r="2.55" fill="#3cc43c" stroke="#2a7a2a" stroke-width="0.8"/>
<circle cx="184.20" cy="531.60" r="2.55" fill="#3cc43c" stroke="#2a7a2a" stroke-width="0.8"/>
<circle cx="189.30" cy="544.20" r="2.55" fill="#3cc43c" stroke="#2a7a2a" stroke-width="0.8"/>
<circle cx="190.10" cy="559.40" r="2.55" fill="#3cc43c" stroke="#2a7a2a" stroke-width="0.8"/>
<circle cx="205.00" cy="559.40" r="2.55" fill="#3cc43c" stroke="#2a7a2a" stroke-width="0.8"/>
<circle cx="188.00" cy="565.10" r="2.55" fill="#3cc43c" stroke="#2a7a2a" stroke-width="0.8"/>
<circle cx="191.70" cy="567.30" r="2.55" fill="#3cc43c" stroke="#2a7a2a" stroke-width="0.8"/>
<circle cx="194.10" cy="570.00" r="2.55" fill="#3cc43c" stroke="#2a7a2a" stroke-width="0.8"/>
<circle cx="190.10" cy="572.90" r="2.55" fill="#3cc43c" stroke="#2a7a2a" stroke-width="0.8"/>
<circle cx="205.00" cy="569.30" r="2.55" fill="#3cc43c" stroke="#2a7a2a" stroke-width="0.8"/>
<circle cx="197.40" cy="575.60" r="2.55" fill="#3cc43c" stroke="#2a7a2a" stroke-width="0.8"/>
<circle cx="206.50" cy="576.20" r="2.55" fill="#3cc43c" stroke="#2a7a2a" stroke-width="0.8"/>
<circle cx="196.00" cy="579.90" r="2.55" fill="#3cc43c" stroke="#2a7a2a" stroke-width="0.8"/>
<circle cx="183.80" cy="580.90" r="2.55" fill="#3cc43c" stroke="#2a7a2a" stroke-width="0.8"/>
<circle cx="188.40" cy="579.90" r="2.55" fill="#3cc43c" stroke="#2a7a2a" stroke-width="0.8"/>
<circle cx="192.80" cy="581.20" r="2.55" fill="#3cc43c" stroke="#2a7a2a" stroke-width="0.8"/>
<circle cx="189.70" cy="584.10" r="2.55" fill="#3cc43c" stroke="#2a7a2a" stroke-width="0.8"/>
<circle cx="183.50" cy="584.90" r="2.55" fill="#3cc43c" stroke="#2a7a2a" stroke-width="0.8"/>
<circle cx="184.20" cy="590.20" r="2.55" fill="#3cc43c" stroke="#2a7a2a" stroke-width="0.8"/>
<line x1="393.4" y1="398" x2="393.4" y2="712.5" stroke="#8a8a8a" stroke-width="1.3"/>
<line x1="393.4" y1="712.5" x2="682.8" y2="712.5" stroke="#8a8a8a" stroke-width="1.3"/>
<line x1="388.4" y1="412.9" x2="393.4" y2="412.9" stroke="#222" stroke-width="1.1"/>
<text x="387.4" y="417.5" font-family='"Liberation Sans", sans-serif' font-size="10.5" font-weight="bold" fill="#1a1a1a" text-anchor="end" textLength="13.2" lengthAdjust="spacingAndGlyphs" >2.0</text>
<line x1="388.4" y1="484" x2="393.4" y2="484" stroke="#222" stroke-width="1.1"/>
<text x="387.4" y="488.6" font-family='"Liberation Sans", sans-serif' font-size="10.5" font-weight="bold" fill="#1a1a1a" text-anchor="end" textLength="12.8" lengthAdjust="spacingAndGlyphs" >1.0</text>
<line x1="388.4" y1="555.2" x2="393.4" y2="555.2" stroke="#222" stroke-width="1.1"/>
<text x="387.4" y="559.8000000000001" font-family='"Liberation Sans", sans-serif' font-size="10.5" font-weight="bold" fill="#1a1a1a" text-anchor="end" textLength="8.2" lengthAdjust="spacingAndGlyphs" >.0</text>
<line x1="388.4" y1="625.8" x2="393.4" y2="625.8" stroke="#222" stroke-width="1.1"/>
<text x="387.4" y="630.4" font-family='"Liberation Sans", sans-serif' font-size="10.5" font-weight="bold" fill="#1a1a1a" text-anchor="end" textLength="15.4" lengthAdjust="spacingAndGlyphs" >-1.0</text>
<line x1="388.4" y1="696.4" x2="393.4" y2="696.4" stroke="#222" stroke-width="1.1"/>
<text x="387.4" y="701.0" font-family='"Liberation Sans", sans-serif' font-size="10.5" font-weight="bold" fill="#1a1a1a" text-anchor="end" textLength="15.4" lengthAdjust="spacingAndGlyphs" >-2.0</text>
<line x1="407.6" y1="712.5" x2="407.6" y2="717.5" stroke="#222" stroke-width="1.1"/>
<text x="407.90000000000003" y="728.0" font-family='"Liberation Sans", sans-serif' font-size="10.5" font-weight="bold" fill="#1a1a1a" text-anchor="middle" textLength="15.4" lengthAdjust="spacingAndGlyphs" >-2.0</text>
<line x1="472.6" y1="712.5" x2="472.6" y2="717.5" stroke="#222" stroke-width="1.1"/>
<text x="472.90000000000003" y="728.0" font-family='"Liberation Sans", sans-serif' font-size="10.5" font-weight="bold" fill="#1a1a1a" text-anchor="middle" textLength="15.4" lengthAdjust="spacingAndGlyphs" >-1.0</text>
<line x1="538" y1="712.5" x2="538" y2="717.5" stroke="#222" stroke-width="1.1"/>
<text x="538.3" y="728.0" font-family='"Liberation Sans", sans-serif' font-size="10.5" font-weight="bold" fill="#1a1a1a" text-anchor="middle" textLength="8.2" lengthAdjust="spacingAndGlyphs" >.0</text>
<line x1="603.5" y1="712.5" x2="603.5" y2="717.5" stroke="#222" stroke-width="1.1"/>
<text x="603.8" y="728.0" font-family='"Liberation Sans", sans-serif' font-size="10.5" font-weight="bold" fill="#1a1a1a" text-anchor="middle" textLength="12.8" lengthAdjust="spacingAndGlyphs" >1.0</text>
<line x1="668.5" y1="712.5" x2="668.5" y2="717.5" stroke="#222" stroke-width="1.1"/>
<text x="668.8" y="728.0" font-family='"Liberation Sans", sans-serif' font-size="10.5" font-weight="bold" fill="#1a1a1a" text-anchor="middle" textLength="13.2" lengthAdjust="spacingAndGlyphs" >2.0</text>
<text x="538" y="744.8" font-family='"Liberation Sans", sans-serif' font-size="12" font-weight="bold" fill="#1a1a1a" text-anchor="middle" textLength="201" lengthAdjust="spacingAndGlyphs" >Z score for the level of IL-1Beta (Th1)</text>
<text x="362.7" y="554.7" font-family='"Liberation Sans", sans-serif' font-size="12" font-weight="bold" fill="#1a1a1a" text-anchor="middle" textLength="175.5" lengthAdjust="spacingAndGlyphs" transform="rotate(-90 362.7 554.7)">Z score for the level of IL-6 (Th2)</text>
<text x="632.5" y="407.3" font-family='"Liberation Sans", sans-serif' font-size="9.6" font-weight="bold" fill="#1a1a1a" text-anchor="start" textLength="33" lengthAdjust="spacingAndGlyphs" >Groups</text>
<rect x="622.1999999999999" y="416.4" width="4.2" height="4.2" fill="#f39a3a" stroke="#c0392b" stroke-width="0.9"/>
<text x="631.5" y="422.5" font-family='"Liberation Sans", sans-serif' font-size="10.5" font-weight="bold" fill="#1a1a1a" text-anchor="start" textLength="44" lengthAdjust="spacingAndGlyphs" >Th1 &gt; Th2</text>
<circle cx="624.3" cy="429.7" r="2.6" fill="#3cc43c" stroke="#2a7a2a" stroke-width="0.8"/>
<text x="631.5" y="433.4" font-family='"Liberation Sans", sans-serif' font-size="10.5" font-weight="bold" fill="#1a1a1a" text-anchor="start" textLength="44" lengthAdjust="spacingAndGlyphs" >Th1 &lt; Th2</text>
<rect x="530.65" y="558.95" width="4.1" height="4.1" fill="#f39a3a" stroke="#c0392b" stroke-width="0.9"/>
<rect x="534.55" y="558.95" width="4.1" height="4.1" fill="#f39a3a" stroke="#c0392b" stroke-width="0.9"/>
<rect x="538.55" y="562.25" width="4.1" height="4.1" fill="#f39a3a" stroke="#c0392b" stroke-width="0.9"/>
<rect x="538.55" y="565.65" width="4.1" height="4.1" fill="#f39a3a" stroke="#c0392b" stroke-width="0.9"/>
<rect x="559.05" y="565.25" width="4.1" height="4.1" fill="#f39a3a" stroke="#c0392b" stroke-width="0.9"/>
<rect x="545.85" y="570.55" width="4.1" height="4.1" fill="#f39a3a" stroke="#c0392b" stroke-width="0.9"/>
<rect x="529.65" y="567.95" width="4.1" height="4.1" fill="#f39a3a" stroke="#c0392b" stroke-width="0.9"/>
<rect x="534.95" y="568.25" width="4.1" height="4.1" fill="#f39a3a" stroke="#c0392b" stroke-width="0.9"/>
<rect x="524.45" y="569.45" width="4.1" height="4.1" fill="#f39a3a" stroke="#c0392b" stroke-width="0.9"/>
<rect x="520.05" y="571.45" width="4.1" height="4.1" fill="#f39a3a" stroke="#c0392b" stroke-width="0.9"/>
<rect x="527.55" y="570.95" width="4.1" height="4.1" fill="#f39a3a" stroke="#c0392b" stroke-width="0.9"/>
<rect x="527.05" y="574.75" width="4.1" height="4.1" fill="#f39a3a" stroke="#c0392b" stroke-width="0.9"/>
<rect x="530.65" y="575.15" width="4.1" height="4.1" fill="#f39a3a" stroke="#c0392b" stroke-width="0.9"/>
<rect x="536.55" y="575.15" width="4.1" height="4.1" fill="#f39a3a" stroke="#c0392b" stroke-width="0.9"/>
<rect x="513.85" y="579.75" width="4.1" height="4.1" fill="#f39a3a" stroke="#c0392b" stroke-width="0.9"/>
<rect x="518.35" y="579.15" width="4.1" height="4.1" fill="#f39a3a" stroke="#c0392b" stroke-width="0.9"/>
<rect x="523.05" y="579.15" width="4.1" height="4.1" fill="#f39a3a" stroke="#c0392b" stroke-width="0.9"/>
<rect x="525.95" y="578.45" width="4.1" height="4.1" fill="#f39a3a" stroke="#c0392b" stroke-width="0.9"/>
<rect x="513.85" y="583.35" width="4.1" height="4.1" fill="#f39a3a" stroke="#c0392b" stroke-width="0.9"/>
<rect x="520.05" y="582.85" width="4.1" height="4.1" fill="#f39a3a" stroke="#c0392b" stroke-width="0.9"/>
<rect x="514.05" y="589.45" width="4.1" height="4.1" fill="#f39a3a" stroke="#c0392b" stroke-width="0.9"/>
<rect x="515.15" y="595.25" width="4.1" height="4.1" fill="#f39a3a" stroke="#c0392b" stroke-width="0.9"/>
<rect x="531.25" y="592.05" width="4.1" height="4.1" fill="#f39a3a" stroke="#c0392b" stroke-width="0.9"/>
<rect x="529.65" y="601.35" width="4.1" height="4.1" fill="#f39a3a" stroke="#c0392b" stroke-width="0.9"/>
<rect x="534.55" y="601.35" width="4.1" height="4.1" fill="#f39a3a" stroke="#c0392b" stroke-width="0.9"/>
<rect x="514.05" y="611.55" width="4.1" height="4.1" fill="#f39a3a" stroke="#c0392b" stroke-width="0.9"/>
<circle cx="570.80" cy="420.10" r="2.55" fill="#3cc43c" stroke="#2a7a2a" stroke-width="0.8"/>
<circle cx="557.30" cy="475.20" r="2.55" fill="#3cc43c" stroke="#2a7a2a" stroke-width="0.8"/>
<circle cx="530.40" cy="508.20" r="2.55" fill="#3cc43c" stroke="#2a7a2a" stroke-width="0.8"/>
<circle cx="520.90" cy="514.00" r="2.55" fill="#3cc43c" stroke="#2a7a2a" stroke-width="0.8"/>
<circle cx="536.20" cy="524.10" r="2.55" fill="#3cc43c" stroke="#2a7a2a" stroke-width="0.8"/>
<circle cx="539.90" cy="525.70" r="2.55" fill="#3cc43c" stroke="#2a7a2a" stroke-width="0.8"/>
<circle cx="536.20" cy="529.20" r="2.55" fill="#3cc43c" stroke="#2a7a2a" stroke-width="0.8"/>
<circle cx="523.50" cy="529.20" r="2.55" fill="#3cc43c" stroke="#2a7a2a" stroke-width="0.8"/>
<circle cx="516.10" cy="532.60" r="2.55" fill="#3cc43c" stroke="#2a7a2a" stroke-width="0.8"/>
<circle cx="518.10" cy="533.00" r="2.55" fill="#3cc43c" stroke="#2a7a2a" stroke-width="0.8"/>
<circle cx="529.10" cy="537.30" r="2.55" fill="#3cc43c" stroke="#2a7a2a" stroke-width="0.8"/>
<circle cx="538.60" cy="536.90" r="2.55" fill="#3cc43c" stroke="#2a7a2a" stroke-width="0.8"/>
<circle cx="516.10" cy="540.20" r="2.55" fill="#3cc43c" stroke="#2a7a2a" stroke-width="0.8"/>
<circle cx="521.40" cy="545.20" r="2.55" fill="#3cc43c" stroke="#2a7a2a" stroke-width="0.8"/>
<circle cx="535.30" cy="545.20" r="2.55" fill="#3cc43c" stroke="#2a7a2a" stroke-width="0.8"/>
<circle cx="525.10" cy="549.50" r="2.55" fill="#3cc43c" stroke="#2a7a2a" stroke-width="0.8"/>
<circle cx="534.00" cy="548.10" r="2.55" fill="#3cc43c" stroke="#2a7a2a" stroke-width="0.8"/>
<circle cx="531.70" cy="551.50" r="2.55" fill="#3cc43c" stroke="#2a7a2a" stroke-width="0.8"/>
<circle cx="530.00" cy="554.50" r="2.55" fill="#3cc43c" stroke="#2a7a2a" stroke-width="0.8"/>
<circle cx="533.10" cy="554.50" r="2.55" fill="#3cc43c" stroke="#2a7a2a" stroke-width="0.8"/>
<circle cx="522.10" cy="560.70" r="2.55" fill="#3cc43c" stroke="#2a7a2a" stroke-width="0.8"/>
<circle cx="523.80" cy="564.00" r="2.55" fill="#3cc43c" stroke="#2a7a2a" stroke-width="0.8"/>
<circle cx="520.10" cy="566.30" r="2.55" fill="#3cc43c" stroke="#2a7a2a" stroke-width="0.8"/>
<circle cx="524.30" cy="569.00" r="2.55" fill="#3cc43c" stroke="#2a7a2a" stroke-width="0.8"/>
<circle cx="520.80" cy="571.70" r="2.55" fill="#3cc43c" stroke="#2a7a2a" stroke-width="0.8"/>
<circle cx="516.10" cy="577.20" r="2.55" fill="#3cc43c" stroke="#2a7a2a" stroke-width="0.8"/>
<path d="M218.70 799.95A69.25 69.25 0 1 1 150.00 877.88L167.75 875.64A51.35 51.35 0 1 0 218.70 817.85Z" fill="#5a8a38" stroke="#fff" stroke-width="1.5"/>
<path d="M150.00 877.88A69.25 69.25 0 0 1 218.70 799.95L218.70 817.85A51.35 51.35 0 0 0 167.75 875.64Z" fill="#e57a38" stroke="#fff" stroke-width="1.5"/>
<text x="217.2" y="877" font-family='"Liberation Serif", serif' font-size="15.4" font-weight="bold" fill="#000" text-anchor="middle" >HC</text>
<polygon points="127.3,805.2 169.8,805.2 169.8,821.8 163.1,821.8 174,829.7 150.9,821.8 127.3,821.8" fill="#fff" stroke="#bfbfbf" stroke-width="1"/>
<text x="148" y="818.4" font-family='"Liberation Sans", sans-serif' font-size="11.5" font-weight="bold" fill="#404040" text-anchor="middle" >7, 27%</text>
<polygon points="264.3,914.4 272,914.4 264.1,909.2 283.9,914.4 313.4,914.4 313.4,931.6 264.3,931.6" fill="#fff" stroke="#bfbfbf" stroke-width="1"/>
<text x="288.7" y="928.3" font-family='"Liberation Sans", sans-serif' font-size="11.5" font-weight="bold" fill="#404040" text-anchor="middle" >19, 73%</text>
<rect x="160.6" y="968.5" width="4.6" height="4.6" fill="#5a8a38"/>
<text x="168.89999999999998" y="974.6" font-family='"Liberation Sans", sans-serif' font-size="10.3" font-weight="bold" fill="#595959" text-anchor="start" textLength="46.8" lengthAdjust="spacingAndGlyphs" >Th1 &gt; Th2</text>
<rect x="227.6" y="968.5" width="4.6" height="4.6" fill="#e57a38"/>
<text x="236.0" y="974.6" font-family='"Liberation Sans", sans-serif' font-size="10.3" font-weight="bold" fill="#595959" text-anchor="start" textLength="46.5" lengthAdjust="spacingAndGlyphs" >Th1 &lt; Th2</text>
<path d="M545.40 798.15A69.45 69.45 0 1 1 523.94 933.65L529.28 917.20A52.15 52.15 0 1 0 545.40 815.45Z" fill="#5a8a38" stroke="#fff" stroke-width="1.5"/>
<path d="M523.94 933.65A69.45 69.45 0 0 1 545.40 798.15L545.40 815.45A52.15 52.15 0 0 0 529.28 917.20Z" fill="#e57a38" stroke="#fff" stroke-width="1.5"/>
<text x="546.9" y="875.6" font-family='"Liberation Serif", serif' font-size="15.4" font-weight="bold" fill="#000" text-anchor="middle" >CHR</text>
<polygon points="435.2,834.2 484.5,834.2 484.5,850.6 476,850.6 485.4,858 463.8,850.6 435.2,850.6" fill="#fff" stroke="#bfbfbf" stroke-width="1"/>
<text x="459.8" y="847.1" font-family='"Liberation Sans", sans-serif' font-size="11.5" font-weight="bold" fill="#404040" text-anchor="middle" >22, 45%</text>
<polygon points="605.1,882.2 611.5,882.2 605.1,876.9 624.4,882.2 653.8,882.2 653.8,898.3 605.1,898.3" fill="#fff" stroke="#bfbfbf" stroke-width="1"/>
<text x="629.3" y="895" font-family='"Liberation Sans", sans-serif' font-size="11.5" font-weight="bold" fill="#404040" text-anchor="middle" >27, 55%</text>
<rect x="486.4" y="966.6" width="4.6" height="4.6" fill="#5a8a38"/>
<text x="494.9" y="972.7" font-family='"Liberation Sans", sans-serif' font-size="10.3" font-weight="bold" fill="#595959" text-anchor="start" textLength="46.8" lengthAdjust="spacingAndGlyphs" >Th1 &gt; Th2</text>
<rect x="554.1" y="966.6" width="4.6" height="4.6" fill="#e57a38"/>
<text x="562.0" y="972.7" font-family='"Liberation Sans", sans-serif' font-size="10.3" font-weight="bold" fill="#595959" text-anchor="start" textLength="46.5" lengthAdjust="spacingAndGlyphs" >Th1 &lt; Th2</text>
<rect x="12.5" y="374" width="1.3" height="1.3" fill="#9a9a9a"/>
<rect x="355.5" y="368.5" width="1.3" height="1.3" fill="#9a9a9a"/>
<rect x="13.5" y="753" width="1.3" height="1.3" fill="#9a9a9a"/>
<rect x="110.5" y="980.5" width="1.3" height="1.3" fill="#9a9a9a"/>
<rect x="424.5" y="978" width="1.3" height="1.3" fill="#9a9a9a"/>
<rect x="348.5" y="752" width="1.3" height="1.3" fill="#9a9a9a"/>
</svg>
</body></html>
